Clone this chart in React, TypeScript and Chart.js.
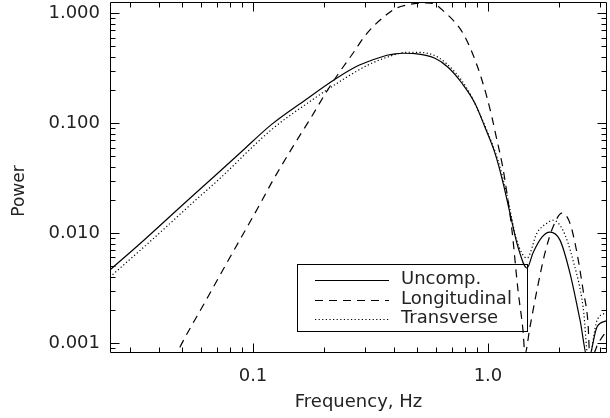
import { useEffect, useRef } from "react";
import { Chart, registerables } from "chart.js";
Chart.register(...registerables);

const FONT = "'DejaVu Sans', sans-serif";

// Axis ranges
const xMin = 0.02463;
const xMax = 3.21;
const yMin = 0.000828;
const yMax = 1.267;

// Tick values and labels
const xTickValues = [0.1, 1.0];
const xTickLabels = ["0.1", "1.0"];
const yTickValues = [0.001, 0.01, 0.1, 1.0];
const yTickLabels = ["0.001", "0.010", "0.100", "1.000"];
const xMinorTicks = [0.03, 0.04, 0.05, 0.06, 0.07, 0.08, 0.09, 0.2, 0.3, 0.4, 0.5, 0.6, 0.7, 0.8, 0.9, 2, 3];
const yMinorTicks = [0.0009, 0.002, 0.003, 0.004, 0.005, 0.006, 0.007, 0.008, 0.009, 0.02, 0.03, 0.04, 0.05, 0.06, 0.07, 0.08, 0.09, 0.2, 0.3, 0.4, 0.5, 0.6, 0.7, 0.8, 0.9];

// Series: Uncomp. (solid)
const uncompFreq = [0.0246, 0.0347, 0.0529, 0.0689, 0.0907, 0.1204, 0.1665, 0.2233, 0.2716, 0.3055, 0.3717, 0.402, 0.4346, 0.489, 0.595, 0.676, 0.775, 0.88, 0.971, 1.071, 1.158, 1.24, 1.342, 1.466, 1.554, 1.697, 1.835, 2.025, 2.233, 2.464, 2.665, 2.91, 3.21];
const uncompPower = [0.00461, 0.0088, 0.02, 0.0332, 0.0568, 0.098, 0.162, 0.251, 0.323, 0.36, 0.415, 0.428, 0.433, 0.43, 0.39, 0.323, 0.231, 0.152, 0.0919, 0.0534, 0.029, 0.0152, 0.00746, 0.00481, 0.0066, 0.0092, 0.0102, 0.00863, 0.00433, 0.00162, 0.0007, 0.0014, 0.0016];

// Series: Longitudinal (dashed)
const longFreq = [0.046, 0.0489, 0.0625, 0.076, 0.0898, 0.1071, 0.1204, 0.1466, 0.178, 0.2025, 0.23, 0.2664, 0.3055, 0.3717, 0.402, 0.452, 0.504, 0.55, 0.595, 0.656, 0.724, 0.783, 0.838, 0.898, 0.943, 0.99, 1.04, 1.092, 1.147, 1.181, 1.265, 1.342, 1.409, 1.437, 1.509, 1.616, 1.748, 1.891, 2.065, 2.233, 2.392, 2.54, 2.665, 2.717, 2.95, 3.21];
const longPower = [0.0007, 0.00092, 0.00236, 0.005, 0.0094, 0.01835, 0.0291, 0.0593, 0.1158, 0.1836, 0.279, 0.433, 0.658, 0.979, 1.1, 1.19, 1.235, 1.245, 1.21, 1.02, 0.828, 0.658, 0.491, 0.337, 0.246, 0.172, 0.113, 0.0701, 0.0434, 0.0303, 0.0106, 0.00303, 0.00131, 0.0008, 0.0014, 0.00303, 0.0066, 0.01134, 0.0152, 0.0123, 0.0066, 0.00303, 0.00151, 0.0007, 0.001, 0.0013];

// Series: Transverse (dotted)
const transFreq = [0.0246, 0.0372, 0.0566, 0.071, 0.1204, 0.178, 0.2463, 0.2716, 0.3055, 0.3717, 0.452, 0.52, 0.613, 0.724, 0.822, 0.907, 1.0, 1.103, 1.2, 1.328, 1.466, 1.616, 1.782, 1.891, 2.085, 2.3, 2.54, 2.68, 2.91, 3.21];
const transPower = [0.00398, 0.0087, 0.0197, 0.0303, 0.088, 0.162, 0.2566, 0.291, 0.335, 0.398, 0.442, 0.44, 0.398, 0.291, 0.2, 0.131, 0.0811, 0.046, 0.023, 0.0085, 0.00593, 0.01, 0.0123, 0.0131, 0.0106, 0.00568, 0.00212, 0.0007, 0.0016, 0.0019];

const seriesLabels = ["Uncomp.", "Longitudinal", "Transverse"];
const xTitle = "Frequency, Hz";
const yTitle = "Power";

function lookup(values: number[], labels: string[], v: number): string {
  for (let i = 0; i < values.length; i++) {
    if (Math.abs(values[i] - v) / values[i] < 1e-6) return labels[i];
  }
  return "";
}

const decorPlugin = {
  id: "decor",
  afterDraw(chart: any) {
    const ctx = chart.ctx as CanvasRenderingContext2D;
    const { left, right, top, bottom } = chart.chartArea;
    const xs = chart.scales.x;
    const ys = chart.scales.y;
    ctx.save();
    ctx.strokeStyle = "#000";
    ctx.lineWidth = 1;
    const L = Math.round(left) + 0.5;
    const R = Math.round(right) - 0.5;
    const T = Math.round(top) + 0.5;
    const B = Math.round(bottom) + 0.5;
    ctx.beginPath();
    ctx.rect(L, T, R - L, B - T);
    ctx.stroke();
    const major = 9;
    const minor = 5;
    ctx.beginPath();
    const xt = (v: number, len: number) => {
      const px = Math.round(xs.getPixelForValue(v)) + 0.5;
      ctx.moveTo(px, B); ctx.lineTo(px, B - len);
      ctx.moveTo(px, T); ctx.lineTo(px, T + len);
    };
    const yt = (v: number, len: number) => {
      const py = Math.round(ys.getPixelForValue(v)) + 0.5;
      ctx.moveTo(L, py); ctx.lineTo(L + len, py);
      ctx.moveTo(R, py); ctx.lineTo(R - len, py);
    };
    xTickValues.forEach(v => xt(v, major));
    xMinorTicks.forEach(v => xt(v, minor));
    yTickValues.forEach(v => yt(v, major));
    yMinorTicks.forEach(v => yt(v, minor));
    ctx.stroke();

    // Axis titles
    ctx.fillStyle = "#222";
    ctx.font = `18px ${FONT}`;
    ctx.textAlign = "center";
    ctx.textBaseline = "alphabetic";
    ctx.fillText(xTitle, (left + right) / 2, 407);
    ctx.save();
    ctx.translate(20, 191);
    ctx.rotate(-Math.PI / 2);
    ctx.textBaseline = "middle";
    ctx.font = `17px ${FONT}`;
    ctx.fillText(yTitle, 0, 0);
    ctx.restore();

    // Legend
    ctx.strokeStyle = "#000";
    ctx.lineWidth = 1;
    ctx.strokeRect(297.5, 264.5, 230, 67);
    const rows = [280, 300, 319];
    const baselines = [284, 304, 323];
    chart.data.datasets.forEach((ds: any, i: number) => {
      ctx.save();
      ctx.beginPath();
      ctx.setLineDash(ds.borderDash || []);
      ctx.lineWidth = ds.borderWidth;
      ctx.moveTo(315, rows[i] + 0.5);
      ctx.lineTo(389, rows[i] + 0.5);
      ctx.stroke();
      ctx.restore();
      ctx.fillStyle = "#222";
      ctx.font = `18px ${FONT}`;
      ctx.textAlign = "left";
      ctx.textBaseline = "alphabetic";
      ctx.fillText(seriesLabels[i], 401, baselines[i]);
    });
    ctx.restore();
  },
};

export default function App() {
  const ref = useRef<HTMLCanvasElement>(null);
  useEffect(() => {
    const canvas = ref.current!;
    const common = {
      borderColor: "#000",
      borderWidth: 1.2,
      pointRadius: 0,
      fill: false,
      cubicInterpolationMode: "monotone" as const,
    };
    const chart = new Chart(canvas, {
      type: "line",
      data: {
        datasets: [
          { ...common, label: seriesLabels[0], borderDash: [], data: uncompFreq.map((f, i) => ({ x: f, y: uncompPower[i] })) },
          { ...common, label: seriesLabels[1], borderDash: [8, 6], data: longFreq.map((f, i) => ({ x: f, y: longPower[i] })) },
          { ...common, label: seriesLabels[2], borderDash: [1.2, 2.4], data: transFreq.map((f, i) => ({ x: f, y: transPower[i] })) },
        ],
      },
      options: {
        responsive: false,
        animation: false,
        layout: { padding: { top: 2, right: 3, left: 0, bottom: 0 } },
        plugins: { legend: { display: false }, tooltip: { enabled: false } },
        scales: {
          x: {
            type: "logarithmic",
            min: xMin,
            max: xMax,
            afterBuildTicks: (s: any) => { s.ticks = xTickValues.map(v => ({ value: v })); },
            afterFit: (s: any) => { s.height = 66; s.paddingLeft = 0; s.paddingRight = 0; },
            ticks: {
              autoSkip: false,
              maxRotation: 0,
              padding: 14,
              color: "#222",
              font: { family: FONT, size: 18 },
              callback: (v: any) => lookup(xTickValues, xTickLabels, Number(v)),
            },
            grid: { display: false, drawTicks: false },
            border: { display: false },
          },
          y: {
            type: "logarithmic",
            min: yMin,
            max: yMax,
            afterBuildTicks: (s: any) => { s.ticks = yTickValues.map(v => ({ value: v })); },
            afterFit: (s: any) => { s.width = 110; s.paddingTop = 0; s.paddingBottom = 0; },
            ticks: {
              autoSkip: false,
              padding: 10,
              color: "#222",
              font: { family: FONT, size: 18 },
              callback: (v: any) => lookup(yTickValues, yTickLabels, Number(v)),
            },
            grid: { display: false, drawTicks: false },
            border: { display: false },
          },
        },
      },
      plugins: [decorPlugin],
    } as any);
    return () => chart.destroy();
  }, []);
  return (
    <div style={{ position: "fixed", left: 0, top: 0, width: 610, height: 418, background: "#fff" }}>
      <canvas ref={ref} width={610} height={418} />
    </div>
  );
}
